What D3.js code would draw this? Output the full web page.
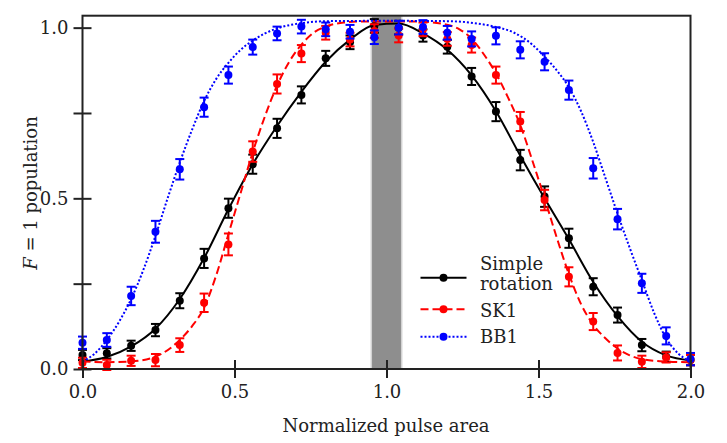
<!DOCTYPE html>
<html>
<head>
<meta charset="utf-8">
<script src="https://cdn.jsdelivr.net/npm/d3@7"></script>
<style>
  html, body { margin: 0; padding: 0; background: #fff; }
  svg { display: block; }
  text { font-family: "DejaVu Serif", serif; fill: #222; }
</style>
</head>
<body>
<svg id="chart" width="727" height="443"></svg>
<script>
// ---------- data ----------
const pulseArea = [0.00, 0.08, 0.16, 0.24, 0.32, 0.40, 0.48, 0.56, 0.64, 0.72, 0.80, 0.88, 0.96,
                   1.04, 1.12, 1.20, 1.28, 1.36, 1.44, 1.52, 1.60, 1.68, 1.76, 1.84, 1.92, 2.00];

const simpleValues = [0.041, 0.046, 0.068, 0.114, 0.200, 0.324, 0.471, 0.600, 0.705, 0.803, 0.910, 0.957, 1.005,
                      1.000, 0.977, 0.944, 0.857, 0.754, 0.612, 0.505, 0.383, 0.241, 0.158, 0.070, 0.036, 0.026];
const simpleErrors = [0.015, 0.015, 0.015, 0.018, 0.022, 0.028, 0.028, 0.028, 0.028, 0.025, 0.022, 0.020, 0.020,
                      0.020, 0.018, 0.020, 0.025, 0.028, 0.030, 0.030, 0.028, 0.025, 0.022, 0.018, 0.015, 0.015];

const sk1Values = [0.018, 0.012, 0.024, 0.026, 0.070, 0.194, 0.365, 0.637, 0.835, 0.924, 0.985, 0.965, 0.990,
                   0.977, 0.995, 0.967, 0.949, 0.861, 0.725, 0.495, 0.270, 0.139, 0.047, 0.021, 0.034, 0.026];
const sk1Errors = [0.015, 0.015, 0.015, 0.018, 0.020, 0.027, 0.032, 0.030, 0.028, 0.025, 0.020, 0.020, 0.020,
                   0.020, 0.020, 0.020, 0.022, 0.025, 0.028, 0.030, 0.028, 0.025, 0.022, 0.018, 0.015, 0.015];

const bb1Values = [0.077, 0.085, 0.214, 0.402, 0.585, 0.767, 0.861, 0.943, 0.983, 1.003, 0.995, 0.988, 0.972,
                   1.000, 1.002, 0.985, 0.967, 0.976, 0.935, 0.900, 0.817, 0.588, 0.439, 0.251, 0.097, 0.029];
const bb1Errors = [0.018, 0.020, 0.027, 0.032, 0.030, 0.028, 0.025, 0.022, 0.020, 0.020, 0.020, 0.020, 0.020,
                   0.020, 0.020, 0.020, 0.022, 0.025, 0.025, 0.025, 0.028, 0.030, 0.030, 0.028, 0.025, 0.018];

// fitted theory curves
const simpleCurveX = [0, 0.08, 0.16, 0.24, 0.32, 0.40, 0.48, 0.56, 0.64, 0.72, 0.80, 0.88, 0.96,
                      1.04, 1.12, 1.20, 1.28, 1.36, 1.44, 1.52, 1.60, 1.68, 1.76, 1.84, 1.92, 2.00];
const simpleCurveY = [0.022, 0.035, 0.066, 0.118, 0.205, 0.325, 0.468, 0.600, 0.712, 0.812, 0.900, 0.965, 1.008,
                      1.012, 0.983, 0.935, 0.860, 0.755, 0.625, 0.500, 0.380, 0.255, 0.155, 0.080, 0.040, 0.025];

const sk1CurveX = [0, 0.08, 0.16, 0.24, 0.32, 0.36, 0.40, 0.44, 0.48, 0.52, 0.56, 0.60, 0.64, 0.68, 0.72, 0.76,
                   0.80, 0.86, 0.92, 1.00, 1.10, 1.18, 1.24, 1.28, 1.32, 1.36, 1.40, 1.44, 1.48, 1.52, 1.56,
                   1.60, 1.64, 1.68, 1.72, 1.76, 1.80, 1.84, 1.92, 2.00];
const sk1CurveY = [0.022, 0.020, 0.022, 0.036, 0.085, 0.125, 0.180, 0.275, 0.395, 0.515, 0.635, 0.740, 0.830,
                   0.900, 0.950, 0.985, 1.003, 1.015, 1.018, 1.018, 1.018, 1.012, 0.995, 0.968, 0.922, 0.866,
                   0.795, 0.715, 0.610, 0.500, 0.385, 0.278, 0.190, 0.130, 0.090, 0.060, 0.040, 0.029, 0.022, 0.020];

const bb1CurveX = [0, 0.04, 0.08, 0.12, 0.16, 0.20, 0.24, 0.28, 0.32, 0.36, 0.40, 0.44, 0.48, 0.52, 0.56, 0.60,
                   0.66, 0.72, 0.80, 1.00, 1.20, 1.30, 1.36, 1.42, 1.48, 1.52, 1.56, 1.60, 1.64, 1.68, 1.72,
                   1.76, 1.80, 1.84, 1.88, 1.92, 1.96, 2.00];
const bb1CurveY = [0.022, 0.045, 0.085, 0.138, 0.205, 0.290, 0.390, 0.500, 0.605, 0.700, 0.785, 0.850, 0.897,
                   0.935, 0.962, 0.983, 1.003, 1.013, 1.019, 1.020, 1.019, 1.012, 1.002, 0.985, 0.950, 0.915,
                   0.875, 0.825, 0.755, 0.665, 0.560, 0.455, 0.355, 0.260, 0.165, 0.090, 0.045, 0.022];

const bandRange = [0.95, 1.05];
const xTicks = [0, 0.5, 1.0, 1.5, 2.0];
const yTicks = [0, 0.25, 0.5, 0.75, 1.0];
const yLabelled = [0, 0.5, 1.0];
const legendNames = [["Simple", "rotation"], ["SK1"], ["BB1"]];

// ---------- layout ----------
const svg = d3.select("#chart");
const x = d3.scaleLinear().domain([0, 2]).range([82.5, 690.5]);
const y = d3.scaleLinear().domain([0, 1.035]).range([369, 15.7]);

const series = [
  { name: "simple", color: "#000000", vals: simpleValues, errs: simpleErrors, cx: simpleCurveX, cy: simpleCurveY, dash: null },
  { name: "sk1", color: "#ff0000", vals: sk1Values, errs: sk1Errors, cx: sk1CurveX, cy: sk1CurveY, dash: "8,4" },
  { name: "bb1", color: "#0000ff", vals: bb1Values, errs: bb1Errors, cx: bb1CurveX, cy: bb1CurveY, dash: "2,2" }
];

// grey band
svg.append("rect")
  .attr("x", x(bandRange[0])).attr("y", y(1.035))
  .attr("width", x(bandRange[1]) - x(bandRange[0]))
  .attr("height", y(0) - y(1.035))
  .attr("fill", "#8e8e8e").attr("stroke", "#d2d2d2").attr("stroke-width", 1.5);

const line = d3.line().x(d => x(d[0])).y(d => y(d[1])).curve(d3.curveMonotoneX);

series.forEach(s => {
  const g = svg.append("g");
  g.append("path")
    .datum(s.cx.map((v, i) => [v, s.cy[i]]))
    .attr("d", line)
    .attr("fill", "none").attr("stroke", s.color).attr("stroke-width", 2)
    .attr("stroke-dasharray", s.dash);
  const pts = pulseArea.map((p, i) => ({ p, v: s.vals[i], e: s.errs[i] }));
  const pg = g.selectAll("g.pt").data(pts).enter().append("g");
  pg.append("line")
    .attr("x1", d => x(d.p)).attr("x2", d => x(d.p))
    .attr("y1", d => y(d.v - d.e)).attr("y2", d => y(d.v + d.e))
    .attr("stroke", s.color).attr("stroke-width", 2);
  [-1, 1].forEach(sg => {
    pg.append("line")
      .attr("x1", d => x(d.p) - 4.5).attr("x2", d => x(d.p) + 4.5)
      .attr("y1", d => y(d.v + sg * d.e)).attr("y2", d => y(d.v + sg * d.e))
      .attr("stroke", s.color).attr("stroke-width", 2);
  });
  pg.append("circle")
    .attr("cx", d => x(d.p)).attr("cy", d => y(d.v)).attr("r", 4)
    .attr("fill", s.color);
});

// frame
svg.append("rect")
  .attr("x", x(0)).attr("y", y(1.035))
  .attr("width", x(2) - x(0)).attr("height", y(0) - y(1.035))
  .attr("fill", "none").attr("stroke", "#222").attr("stroke-width", 2);

// axes
const xAxis = svg.append("g").attr("transform", `translate(0,${y(0)})`)
  .call(d3.axisBottom(x).tickValues(xTicks).tickSize(9).tickFormat(d3.format(".1f")));
xAxis.select(".domain").remove();
xAxis.selectAll(".tick line").attr("y1", -9).attr("y2", 9).attr("stroke", "#222").attr("stroke-width", 2);
xAxis.selectAll(".tick text").attr("y", 16).attr("dy", "0.71em")
  .style("font-family", "DejaVu Serif").style("font-size", "18px").attr("fill", "#222");

const yAxis = svg.append("g").attr("transform", `translate(${x(0)},0)`)
  .call(d3.axisLeft(y).tickValues(yTicks).tickSize(9)
    .tickFormat(d => yLabelled.includes(d) ? d3.format(".1f")(d) : ""));
yAxis.select(".domain").remove();
yAxis.selectAll(".tick line").attr("x1", -9).attr("x2", 9).attr("stroke", "#222").attr("stroke-width", 2);
yAxis.selectAll(".tick text").attr("x", -14)
  .style("font-family", "DejaVu Serif").style("font-size", "18px").attr("fill", "#222");

// axis titles
svg.append("text")
  .attr("x", 386).attr("y", 432).attr("text-anchor", "middle")
  .style("font-size", "18px").text("Normalized pulse area");

const yt = svg.append("text")
  .attr("transform", "translate(37,193) rotate(-90)")
  .attr("text-anchor", "middle").style("font-size", "18px");
yt.append("tspan").style("font-style", "italic").text("F");
yt.append("tspan").text(" = 1 population");

// legend
const legY = [277.7, 309.3, 336.7];
const legText = [[270, 290], [316.7], [343.3]];
series.forEach((s, i) => {
  const lg = svg.append("g");
  lg.append("line").attr("x1", 420.5).attr("x2", 466.5)
    .attr("y1", legY[i]).attr("y2", legY[i])
    .attr("stroke", s.color).attr("stroke-width", 2).attr("stroke-dasharray", s.dash);
  lg.append("circle").attr("cx", 443.5).attr("cy", legY[i]).attr("r", 4).attr("fill", s.color);
  legendNames[i].forEach((t, j) => {
    lg.append("text").attr("x", 480).attr("y", legText[i][j])
      .style("font-size", "18px").text(t);
  });
});
</script>
</body>
</html>
